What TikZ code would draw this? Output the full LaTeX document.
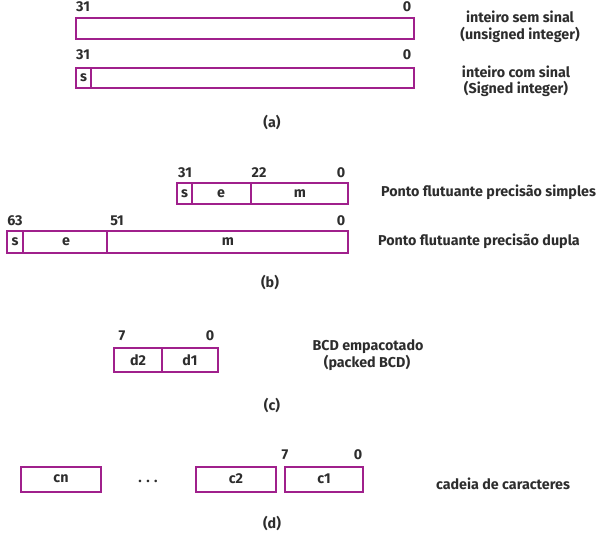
\documentclass[tikz,border=0pt]{standalone}
\usepackage{fontspec}
\setmainfont{Fira Sans}
\definecolor{regcor}{RGB}{160,32,140}
\definecolor{txtcor}{RGB}{45,45,45}
\begin{document}
\begin{tikzpicture}[x=1pt,y=-1pt,
    campo/.style={draw=regcor,line width=1.5pt},
    rot/.style={font=\bfseries\fontsize{14.3}{16}\selectfont,text=txtcor,inner sep=0pt}]
    \useasboundingbox (0,0) rectangle (602,537);
    \draw[campo] (76,18) rectangle (414,39);
    \draw[campo] (76,68) rectangle (414,88); \draw[campo] (91,68)--(91,88);
    \node[rot] (a31) at (83,7) {31}; \node[rot] (a0) at (407,7) {0};
    \node[rot] (b31) at (83,55) {31}; \node[rot] (b0) at (407,55) {0};
    \node[rot] (as) at (83.5,78) {s};
    \node[rot] (sem) at (520,17) {inteiro sem sinal}; \node[rot] (unsig) at (520,35) {(unsigned integer)};
    \node[rot] (com) at (516,72) {inteiro com sinal}; \node[rot] (sig) at (516,89) {(Signed integer)};
    \node[rot] (la) at (272,122) {(a)};
    \draw[campo] (177,183) rectangle (348,204); \draw[campo] (192,183)--(192,204); \draw[campo] (251,183)--(251,204);
    \draw[campo] (7,231) rectangle (348,253); \draw[campo] (23,231)--(23,253); \draw[campo] (107,231)--(107,253);
    \node[rot] (fs) at (184.5,194) {s}; \node[rot] (fe) at (221,194) {e}; \node[rot] (fm) at (300,194) {m};
    \node[rot] (f31) at (185,173) {31}; \node[rot] (f22) at (259,173) {22}; \node[rot] (f0) at (341,173) {0};
    \node[rot] (ds) at (15,242) {s}; \node[rot] (de) at (66,242) {e}; \node[rot] (dm) at (228,242) {m};
    \node[rot] (d63) at (15,221) {63}; \node[rot] (d51) at (117,221) {51}; \node[rot] (d0) at (341,221) {0};
    \node[rot,anchor=west] (simples) at (381,192) {Ponto flutuante precisão simples};
    \node[rot,anchor=west] (dupla) at (378,241) {Ponto flutuante precisão dupla};
    \node[rot] (lb) at (270,282) {(b)};
    \draw[campo] (114,348) rectangle (218,372); \draw[campo] (162,348)--(162,372);
    \node[rot] (d2) at (138,360) {d2}; \node[rot] (d1) at (190,360) {d1};
    \node[rot] (c7) at (122,336) {7}; \node[rot] (c0) at (210,336) {0};
    \node[rot] (bcd) at (368,347) {BCD empacotado}; \node[rot] (packed) at (367,363) {(packed BCD)};
    \node[rot] (lc) at (272,405) {(c)};
    \draw[campo] (21,467) rectangle (101,492); \draw[campo] (196,467) rectangle (276,492); \draw[campo] (285,467) rectangle (363,492);
    \node[rot] (cn) at (61,479) {cn}; \node[rot] (dots) at (148,481) {. . .};
    \node[rot] (c2) at (236,479) {c2}; \node[rot] (c1) at (324,479) {c1};
    \node[rot] (s7) at (285,455) {7}; \node[rot] (s0) at (358,455) {0};
    \node[rot] (cadeia) at (503,484) {cadeia de caracteres};
    \node[rot] (ld) at (272,523) {(d)};
\end{tikzpicture}
\end{document}
